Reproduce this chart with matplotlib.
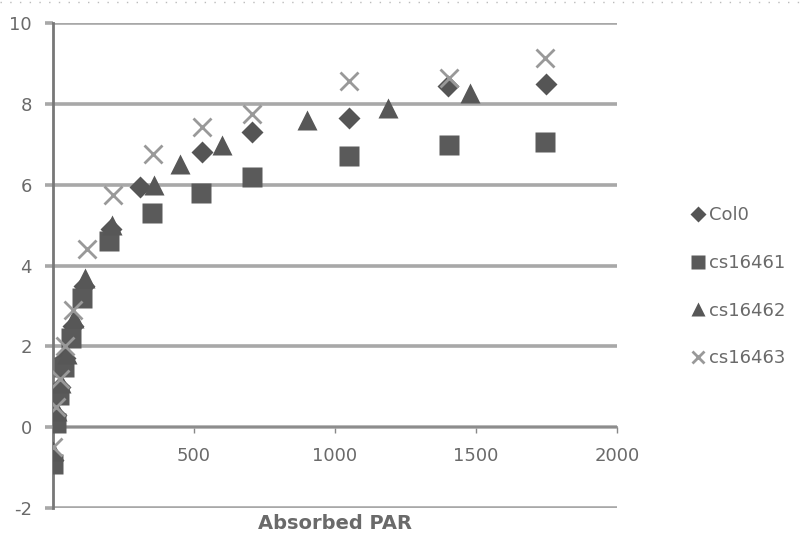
import matplotlib
matplotlib.use('Agg')
import matplotlib.pyplot as plt
from matplotlib.lines import Line2D

plt.rcParams['axes.unicode_minus'] = False

# light response data
col0_x = [0, 12, 25, 45, 70, 110, 205, 310, 530, 705, 1050, 1400, 1750]
col0_y = [-0.8, 0.3, 1.0, 1.7, 2.5, 3.5, 4.9, 5.95, 6.8, 7.3, 7.65, 8.45, 8.5]
cs61_x = [0, 10, 22, 40, 65, 105, 200, 350, 525, 705, 1050, 1405, 1745]
cs61_y = [-0.9, 0.1, 0.8, 1.5, 2.2, 3.2, 4.6, 5.3, 5.8, 6.18, 6.7, 6.97, 7.05]
cs62_x = [0, 14, 28, 50, 75, 115, 210, 360, 450, 600, 900, 1190, 1480]
cs62_y = [-0.6, 0.4, 1.1, 1.8, 2.7, 3.7, 5.0, 6.0, 6.5, 6.97, 7.6, 7.9, 8.28]
cs63_x = [0, 12, 25, 45, 72, 120, 213, 355, 528, 705, 1050, 1405, 1745]
cs63_y = [-0.5, 0.5, 1.2, 2.0, 2.9, 4.4, 5.74, 6.75, 7.42, 7.75, 8.57, 8.65, 9.14]

x_ticks = [500, 1000, 1500, 2000]
y_ticks = [-2, 0, 2, 4, 6, 8, 10]

txt = '#6a6a6a'
grid = '#a8a8a8'

fig = plt.figure(figsize=(8, 5.39), dpi=100)
ax = fig.add_axes([0.066, 0.0575, 0.705, 0.8998])

ax.plot(col0_x, col0_y, 'D', ms=11, color='#555555', mec='none', label='Col0', zorder=3)
ax.plot(cs61_x, cs61_y, 's', ms=14, color='#5a5a5a', mec='none', label='cs16461', zorder=3)
ax.plot(cs62_x, cs62_y, '^', ms=14, color='#575757', mec='none', label='cs16462', zorder=3)
ax.plot(cs63_x, cs63_y, 'x', ms=13, color='#999999', mew=2, label='cs16463', zorder=4)

ax.set_xlim(0, 2000)
ax.set_ylim(-2, 10)
ax.set_yticks(y_ticks)
ax.set_xticks(x_ticks)
ax.set_xticklabels([str(v) for v in x_ticks])

ax.grid(axis='y', color=grid, linewidth=2.6, zorder=1)
ax.set_axisbelow(True)

for s in ['top', 'right']:
    ax.spines[s].set_visible(False)
ax.spines['bottom'].set_position(('data', 0))
ax.spines['bottom'].set_color('#888888')
ax.spines['bottom'].set_linewidth(1.2)
ax.spines['bottom'].set_linestyle((0, (1, 1)))
ax.spines['left'].set_color('#777777')
ax.spines['left'].set_linewidth(2)
ax.spines['left'].set_linestyle((0, (1, 1)))

ax.tick_params(axis='y', direction='out', length=6, width=2.6, color=grid,
               labelsize=13, labelcolor=txt, pad=9)
ax.tick_params(axis='x', direction='out', length=4, width=1, color='#888888',
               labelsize=13, labelcolor=txt, pad=10)

ax.set_xlabel('Absorbed PAR', fontsize=14, fontweight='bold', color=txt)
ax.xaxis.set_label_coords(0.5, -0.013)

leg = ax.legend(loc='center left', bbox_to_anchor=(0.855, 0.468), bbox_transform=fig.transFigure,
                frameon=False, fontsize=13, handlelength=0.8, handletextpad=0.2,
                labelspacing=1.65, markerscale=0.7, borderaxespad=0)
for t in leg.get_texts():
    t.set_color(txt)

# dotted border line along the top of the picture
fig.add_artist(Line2D([0, 1], [0.997, 0.997], transform=fig.transFigure,
                      color='#bbbbbb', linewidth=1, linestyle=(0, (1, 6))))

fig.savefig('out.png', dpi=100)
